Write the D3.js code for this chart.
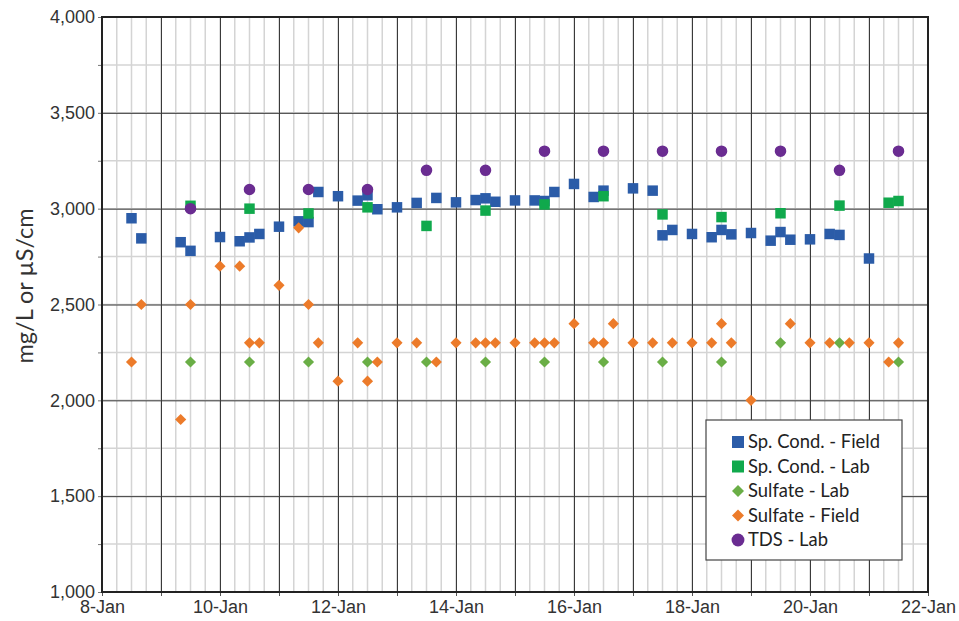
<!DOCTYPE html>
<html>
<head>
<meta charset="utf-8">
<script src="https://cdn.jsdelivr.net/npm/d3@7"></script>
<style>
  body { margin: 0; background: #fff; }
  svg { display: block; font-family: Lato, "Open Sans", sans-serif; }
</style>
</head>
<body>
<div id="chart"></div>
<script>
const spCondField = [
  ["Jan 8 12:00", 2950], ["Jan 8 16:00", 2845], ["Jan 9 08:00", 2825], ["Jan 9 12:00", 2780],
  ["Jan 10 00:00", 2852], ["Jan 10 08:00", 2830], ["Jan 10 12:00", 2850], ["Jan 10 16:00", 2868],
  ["Jan 11 00:00", 2906], ["Jan 11 08:00", 2934], ["Jan 11 12:00", 2930], ["Jan 11 16:00", 3087],
  ["Jan 12 00:00", 3065], ["Jan 12 08:00", 3042], ["Jan 12 12:00", 3070], ["Jan 12 16:00", 2997],
  ["Jan 13 00:00", 3007], ["Jan 13 08:00", 3030], ["Jan 13 16:00", 3056], ["Jan 14 00:00", 3033],
  ["Jan 14 08:00", 3045], ["Jan 14 12:00", 3054], ["Jan 14 16:00", 3036], ["Jan 15 00:00", 3043],
  ["Jan 15 08:00", 3043], ["Jan 15 12:00", 3040], ["Jan 15 16:00", 3087], ["Jan 16 00:00", 3129],
  ["Jan 16 08:00", 3061], ["Jan 16 12:00", 3094], ["Jan 17 00:00", 3106], ["Jan 17 08:00", 3094],
  ["Jan 17 12:00", 2861], ["Jan 17 16:00", 2889], ["Jan 18 00:00", 2868], ["Jan 18 08:00", 2851],
  ["Jan 18 12:00", 2889], ["Jan 18 16:00", 2866], ["Jan 19 00:00", 2873], ["Jan 19 08:00", 2833],
  ["Jan 19 12:00", 2878], ["Jan 19 16:00", 2838], ["Jan 20 00:00", 2840], ["Jan 20 08:00", 2868],
  ["Jan 20 12:00", 2863], ["Jan 21 00:00", 2740],
];

const spCondLab = [
  ["Jan 9 12:00", 3015], ["Jan 10 12:00", 3000], ["Jan 11 12:00", 2975], ["Jan 12 12:00", 3007],
  ["Jan 13 12:00", 2910], ["Jan 14 12:00", 2990], ["Jan 15 12:00", 3022], ["Jan 16 12:00", 3065],
  ["Jan 17 12:00", 2970], ["Jan 18 12:00", 2956], ["Jan 19 12:00", 2976], ["Jan 20 12:00", 3016],
  ["Jan 21 08:00", 3031], ["Jan 21 12:00", 3040],
];

const sulfateLab = [
  ["Jan 9 12:00", 2200], ["Jan 10 12:00", 2200], ["Jan 11 12:00", 2200], ["Jan 12 12:00", 2200],
  ["Jan 13 12:00", 2200], ["Jan 14 12:00", 2200], ["Jan 15 12:00", 2200], ["Jan 16 12:00", 2200],
  ["Jan 17 12:00", 2200], ["Jan 18 12:00", 2200], ["Jan 19 12:00", 2300], ["Jan 20 12:00", 2300],
  ["Jan 21 12:00", 2200],
];

const sulfateField = [
  ["Jan 8 12:00", 2200], ["Jan 8 16:00", 2500], ["Jan 9 08:00", 1900], ["Jan 9 12:00", 2500],
  ["Jan 10 00:00", 2700], ["Jan 10 08:00", 2700], ["Jan 10 12:00", 2300], ["Jan 10 16:00", 2300],
  ["Jan 11 00:00", 2600], ["Jan 11 08:00", 2900], ["Jan 11 12:00", 2500], ["Jan 11 16:00", 2300],
  ["Jan 12 00:00", 2100], ["Jan 12 08:00", 2300], ["Jan 12 12:00", 2100], ["Jan 12 16:00", 2200],
  ["Jan 13 00:00", 2300], ["Jan 13 08:00", 2300], ["Jan 13 16:00", 2200], ["Jan 14 00:00", 2300],
  ["Jan 14 08:00", 2300], ["Jan 14 12:00", 2300], ["Jan 14 16:00", 2300], ["Jan 15 00:00", 2300],
  ["Jan 15 08:00", 2300], ["Jan 15 12:00", 2300], ["Jan 15 16:00", 2300], ["Jan 16 00:00", 2400],
  ["Jan 16 08:00", 2300], ["Jan 16 12:00", 2300], ["Jan 16 16:00", 2400], ["Jan 17 00:00", 2300],
  ["Jan 17 08:00", 2300], ["Jan 17 16:00", 2300], ["Jan 18 00:00", 2300], ["Jan 18 08:00", 2300],
  ["Jan 18 12:00", 2400], ["Jan 18 16:00", 2300], ["Jan 19 00:00", 2000], ["Jan 19 16:00", 2400],
  ["Jan 20 00:00", 2300], ["Jan 20 08:00", 2300], ["Jan 20 16:00", 2300], ["Jan 21 00:00", 2300],
  ["Jan 21 08:00", 2200], ["Jan 21 12:00", 2300],
];

const tdsLab = [
  ["Jan 9 12:00", 3000], ["Jan 10 12:00", 3100], ["Jan 11 12:00", 3100], ["Jan 12 12:00", 3100],
  ["Jan 13 12:00", 3200], ["Jan 14 12:00", 3200], ["Jan 15 12:00", 3300], ["Jan 16 12:00", 3300],
  ["Jan 17 12:00", 3300], ["Jan 18 12:00", 3300], ["Jan 19 12:00", 3300], ["Jan 20 12:00", 3200],
  ["Jan 21 12:00", 3300],
];

const xDomain = ["Jan 8 00:00", "Jan 22 00:00"];
const yTicks = [1000, 1500, 2000, 2500, 3000, 3500, 4000];

const parseTime = d3.timeParse("%b %d %H:%M");

const series = [
  { name: "Sp. Cond. - Field", data: spCondField, shape: "square", color: "#2b5ca8" },
  { name: "Sp. Cond. - Lab", data: spCondLab, shape: "square", color: "#10a94c" },
  { name: "Sulfate - Lab", data: sulfateLab, shape: "diamond", color: "#6aae46" },
  { name: "Sulfate - Field", data: sulfateField, shape: "diamond", color: "#ec7b2a" },
  { name: "TDS - Lab", data: tdsLab, shape: "circle", color: "#6a2c91" },
];

const width = 959;
const height = 621;
const margin = { top: 17, right: 31, bottom: 29, left: 102 };

const x = d3.scaleTime()
  .domain(xDomain.map(parseTime))
  .range([margin.left, width - margin.right]);

const y = d3.scaleLinear()
  .domain([1000, 4000])
  .range([height - margin.bottom, margin.top]);

const svg = d3.select("#chart")
  .append("svg")
  .attr("width", width)
  .attr("height", height);

// minor grid: every 6 hours, every 250
const minorX = d3.timeHour.every(6).range(x.domain()[0], x.domain()[1]);
const minorY = d3.range(1000, 4001, 250);

const grid = svg.append("g");
grid.selectAll(".vminor")
  .data(minorX)
  .join("line")
  .attr("x1", (d) => x(d)).attr("x2", (d) => x(d))
  .attr("y1", y(4000)).attr("y2", y(1000))
  .attr("stroke", "#d4d4d4").attr("stroke-width", 1.5);
grid.selectAll(".hminor")
  .data(minorY)
  .join("line")
  .attr("x1", margin.left).attr("x2", width - margin.right)
  .attr("y1", (d) => y(d)).attr("y2", (d) => y(d))
  .attr("stroke", "#d4d4d4").attr("stroke-width", 1.5);

const days = d3.timeDay.range(x.domain()[0], d3.timeDay.offset(x.domain()[1], 1));

svg.append("g")
  .attr("transform", `translate(0,${height - margin.bottom})`)
  .call(d3.axisBottom(x).tickValues(days).tickSize(-(height - margin.top - margin.bottom)).tickFormat(() => ""))
  .call((g) => g.select(".domain").remove())
  .call((g) => g.selectAll(".tick line").attr("stroke", "#3a3a3a").attr("stroke-width", 1));

svg.append("g")
  .attr("transform", `translate(${margin.left},0)`)
  .call(d3.axisLeft(y).tickValues(yTicks).tickSize(-(width - margin.left - margin.right)).tickFormat(() => ""))
  .call((g) => g.select(".domain").remove())
  .call((g) => g.selectAll(".tick line").attr("stroke", "#3a3a3a").attr("stroke-width", 1));

// outer ticks and labels
svg.append("g")
  .attr("transform", `translate(0,${height - margin.bottom})`)
  .call(d3.axisBottom(x).tickValues(days).tickSize(4)
    .tickFormat((d, i) => (i % 2 === 0 ? d3.timeFormat("%-d-%b")(d) : "")))
  .call((g) => g.select(".domain").remove())
  .call((g) => g.selectAll(".tick line").attr("stroke", "#555"))
  .call((g) => g.selectAll(".tick text").attr("fill", "#333").attr("font-size", 18).attr("dy", "0.8em"));

svg.append("g")
  .attr("transform", `translate(${margin.left},0)`)
  .call(d3.axisLeft(y).tickValues(minorY).tickSize(4)
    .tickFormat((d) => (d % 500 === 0 ? d3.format(",")(d) : "")))
  .call((g) => g.select(".domain").remove())
  .call((g) => g.selectAll(".tick line").attr("stroke", "#777"))
  .call((g) => g.selectAll(".tick text").attr("fill", "#333").attr("font-size", 18));

// plot border
svg.append("rect")
  .attr("x", margin.left).attr("y", margin.top)
  .attr("width", width - margin.left - margin.right)
  .attr("height", height - margin.top - margin.bottom)
  .attr("fill", "none").attr("stroke", "#222").attr("stroke-width", 2);

svg.append("text")
  .attr("transform", "translate(25,286) rotate(-90)")
  .attr("text-anchor", "middle")
  .attr("dy", "0.35em")
  .attr("fill", "#333")
  .attr("font-size", 23.5)
  .text("mg/L or µS/cm");

const symbolPath = (shape, big) => {
  if (shape === "square") return d3.symbol(d3.symbolSquare, big ? 144 : 110)();
  if (shape === "circle") return d3.symbol(d3.symbolCircle, big ? 130 : 105)();
  return d3.symbol(d3.symbolSquare, big ? 72 : 62)();
};
const symbolRotate = (shape) => (shape === "diamond" ? " rotate(45)" : "");

series.forEach((s) => {
  svg.append("g")
    .selectAll("path")
    .data(s.data)
    .join("path")
    .attr("d", symbolPath(s.shape, false))
    .attr("transform", (d) => `translate(${x(parseTime(d[0]))},${y(d[1])})${symbolRotate(s.shape)}`)
    .attr("fill", s.color);
});

// legend
const legend = svg.append("g").attr("transform", "translate(706,420)");
legend.append("rect")
  .attr("width", 196).attr("height", 140)
  .attr("fill", "#fff").attr("stroke", "#444").attr("stroke-width", 1.2);

const item = legend.selectAll(".item")
  .data(series)
  .join("g")
  .attr("transform", (d, i) => `translate(32,${22 + i * 24.5})`);
item.append("path")
  .attr("d", (d) => symbolPath(d.shape, true))
  .attr("transform", (d) => `translate(0,0)${symbolRotate(d.shape)}`)
  .attr("fill", (d) => d.color);
item.append("text")
  .attr("x", 10)
  .attr("dy", "0.35em")
  .attr("font-size", 18.4)
  .attr("fill", "#222")
  .text((d) => d.name);
</script>
</body>
</html>
